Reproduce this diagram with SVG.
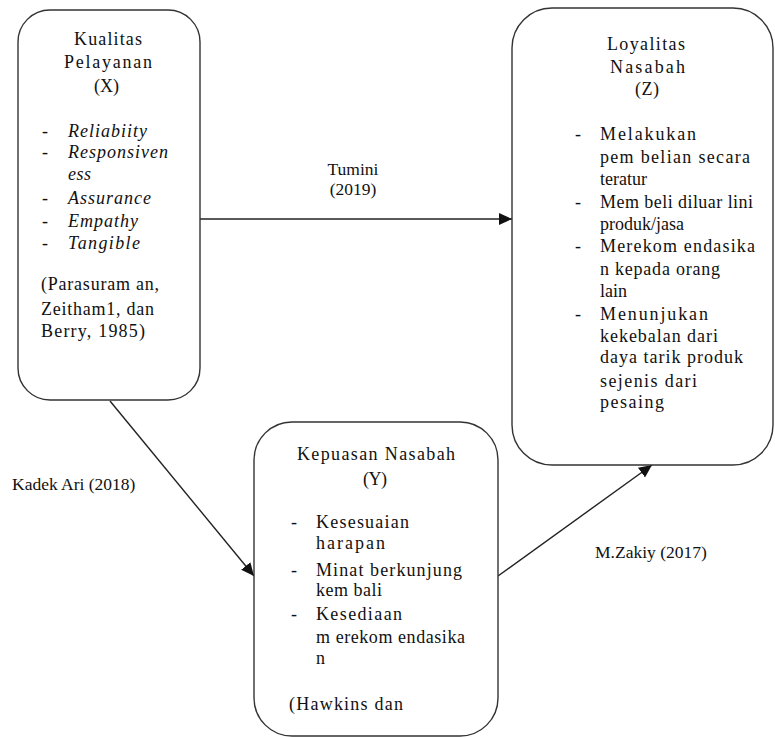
<svg xmlns="http://www.w3.org/2000/svg" width="775" height="738" viewBox="0 0 775 738">
<style>
.box{fill:#fff;stroke:#333;stroke-width:1.4}
.t{font-family:"Liberation Serif","Times New Roman",serif;font-size:18px;fill:#111}
.l{font-family:"Liberation Serif","Times New Roman",serif;font-size:17.5px;fill:#111}
.c{text-anchor:middle}
.i{font-style:italic}
.conn{stroke:#222;stroke-width:1.4;fill:none}
</style>
<defs>
<marker id="ah" markerUnits="userSpaceOnUse" markerWidth="14" markerHeight="12" refX="13" refY="6" orient="auto">
<path d="M0,0 L13,6 L0,12 Z" fill="#111"/>
</marker>
</defs>
<rect width="775" height="738" fill="#fff"/>
<g id="connectors">
<line class="conn" x1="200" y1="219" x2="512" y2="219" marker-end="url(#ah)"/>
<line class="conn" x1="110" y1="401" x2="254" y2="576" marker-end="url(#ah)"/>
<line class="conn" x1="498" y1="576" x2="652" y2="465" marker-end="url(#ah)"/>
<text class="l c" x="353" y="175">Tumini</text>
<text class="l c" x="353" y="195">(2019)</text>
<text class="l" x="12" y="490">Kadek Ari (2018)</text>
<text class="l" x="595" y="558">M.Zakiy (2017)</text>
</g>
<g id="nodeX">
<rect class="box" x="18" y="10" width="182" height="390" rx="32"/>
<text class="t" x="74" y="45" textLength="68">Kualitas</text>
<text class="t" x="64" y="68" textLength="88">Pelayanan</text>
<text class="t" x="94" y="92" textLength="25">(X)</text>
<text class="t" x="42" y="137">-</text><text class="t i" x="68" y="137" textLength="79">Reliabiity</text>
<text class="t" x="42" y="158">-</text><text class="t i" x="68" y="158" textLength="100">Responsiven</text>
<text class="t i" x="68" y="180" textLength="23">ess</text>
<text class="t" x="42" y="204">-</text><text class="t i" x="68" y="204" textLength="83">Assurance</text>
<text class="t" x="42" y="227">-</text><text class="t i" x="68" y="227" textLength="70">Empathy</text>
<text class="t" x="42" y="249">-</text><text class="t i" x="68" y="249" textLength="72">Tangible</text>
<text class="t" x="41" y="290" textLength="118">(Parasuram an,</text>
<text class="t" x="41" y="315" textLength="113">Zeitham1, dan</text>
<text class="t" x="41" y="337" textLength="104">Berry, 1985)</text>
</g>
<g id="nodeZ">
<rect class="box" x="512" y="8" width="261" height="457" rx="40"/>
<text class="t" x="607" y="50" textLength="78">Loyalitas</text>
<text class="t" x="610" y="73" textLength="75">Nasabah</text>
<text class="t" x="635" y="95" textLength="24">(Z)</text>
<text class="t" x="575" y="140">-</text><text class="t" x="600" y="140" textLength="96">Melakukan</text>
<text class="t" x="600" y="163" textLength="150">pem belian secara</text>
<text class="t" x="600" y="185">teratur</text>
<text class="t" x="575" y="208">-</text><text class="t" x="600" y="208" textLength="153">Mem beli diluar lini</text>
<text class="t" x="600" y="230">produk/jasa</text>
<text class="t" x="575" y="252">-</text><text class="t" x="600" y="252" textLength="155">Merekom endasika</text>
<text class="t" x="600" y="275" textLength="120">n kepada orang</text>
<text class="t" x="600" y="297">lain</text>
<text class="t" x="575" y="320">-</text><text class="t" x="600" y="320" textLength="108">Menunjukan</text>
<text class="t" x="600" y="342" textLength="118">kekebalan dari</text>
<text class="t" x="600" y="363" textLength="143">daya tarik produk</text>
<text class="t" x="600" y="387" textLength="97">sejenis dari</text>
<text class="t" x="600" y="408" textLength="64">pesaing</text>
</g>
<g id="nodeY">
<rect class="box" x="254" y="422" width="244" height="314" rx="38"/>
<text class="t" x="297" y="460" textLength="158">Kepuasan Nasabah</text>
<text class="t" x="363" y="485" textLength="24">(Y)</text>
<text class="t" x="291" y="528">-</text><text class="t" x="316" y="528" textLength="93">Kesesuaian</text>
<text class="t" x="316" y="549" textLength="69">harapan</text>
<text class="t" x="291" y="576">-</text><text class="t" x="316" y="576" textLength="146">Minat berkunjung</text>
<text class="t" x="316" y="596" textLength="66">kem bali</text>
<text class="t" x="291" y="620">-</text><text class="t" x="316" y="620" textLength="86">Kesediaan</text>
<text class="t" x="316" y="643" textLength="149">m erekom endasika</text>
<text class="t" x="316" y="664">n</text>
<text class="t" x="289" y="710" textLength="114">(Hawkins dan</text>
</g>
</svg>
